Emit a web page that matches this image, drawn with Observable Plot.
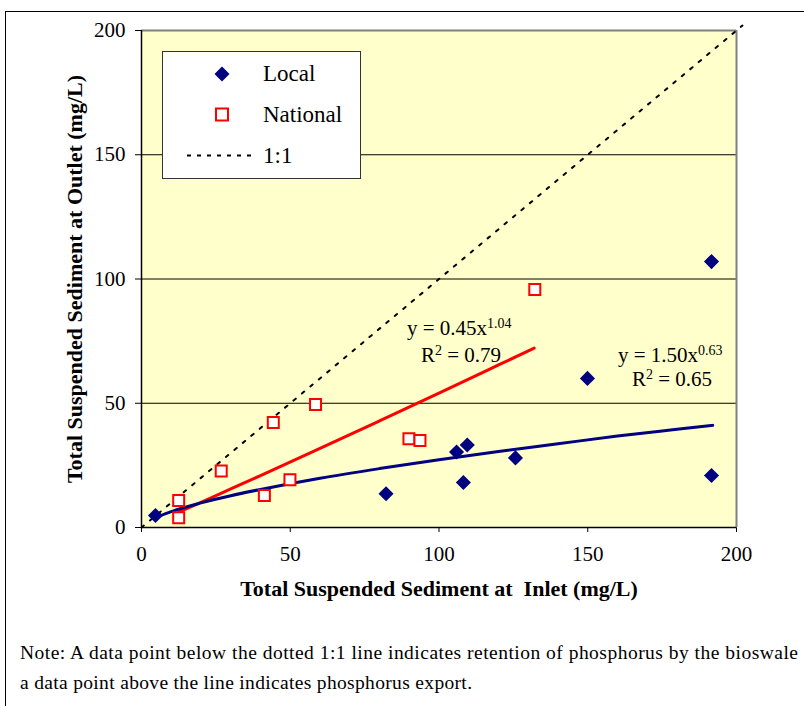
<!DOCTYPE html>
<html>
<head>
<meta charset="utf-8">
<script src="https://cdn.jsdelivr.net/npm/d3@7"></script>
<script src="https://cdn.jsdelivr.net/npm/@observablehq/plot@0.6"></script>
<style>
  html, body { margin: 0; padding: 0; background: #fff; }
  #page { position: relative; width: 804px; height: 706px; overflow: hidden; }
  #frame { position: absolute; left: 5px; top: 11px; width: 900px; height: 800px;
           border-left: 1.5px solid #000; border-top: 1.5px solid #000; }
  #chart { position: absolute; left: 0; top: 0; }
  #overlay { position: absolute; left: 0; top: 0; pointer-events: none; }
</style>
</head>
<body>
<div id="page">
  <div id="frame"></div>
  <div id="chart"></div>
  <svg id="overlay" width="804" height="706"></svg>
</div>
<script>
// ---- data ----
const localX = [4.7, 82.2, 105.9, 109.5, 108.2, 125.7, 149.9, 191.6, 191.6];
const localY = [4.8, 13.6, 30.4, 33.2, 18.1, 28.0, 60.0, 107.0, 20.9];
const nationalX = [12.5, 12.5, 26.8, 41.3, 44.3, 49.9, 58.5, 89.9, 93.6, 132.2];
const nationalY = [10.9, 3.9, 22.7, 12.9, 42.3, 19.2, 49.5, 35.7, 35.0, 95.8];
// trend lines (power fits)
const localFitX = [5, 10, 20, 30, 40, 60, 80, 100, 120, 140, 160, 180, 192];
const localFitY = [4.1, 6.4, 9.9, 12.8, 15.3, 19.8, 23.7, 27.3, 30.6, 33.7, 36.8, 39.5, 41.1];
const nationalFitX = [12.5, 20, 30, 40, 60, 80, 100, 120, 132];
const nationalFitY = [6.2, 10.1, 15.5, 20.9, 31.8, 42.9, 54.1, 65.4, 72.2];
// 1:1 reference line
const oneToOneX = [0, 202];
const oneToOneY = [0, 202];
// ticks, labels
const xTicks = [0, 50, 100, 150, 200];
const yTicks = [0, 50, 100, 150, 200];
const gridValues = [50, 100, 150];
const seriesNames = ["Local", "National", "1:1"];
const xTitle = "Total Suspended Sediment at  Inlet (mg/L)";
const yTitle = "Total Suspended Sediment at Outlet (mg/L)";
const nationalEq = {base: "y = 0.45x", exp: "1.04", r2: "0.79"};
const localEq = {base: "y = 1.50x", exp: "0.63", r2: "0.65"};
const noteLines = [
  "Note: A data point below the dotted 1:1 line indicates retention of phosphorus by the bioswale",
  "a data point above the line indicates phosphorus export."
];

const local = localX.map((x, i) => ({x, y: localY[i]}));
const national = nationalX.map((x, i) => ({x, y: nationalY[i]}));
const localFit = localFitX.map((x, i) => ({x, y: localFitY[i]}));
const nationalFit = nationalFitX.map((x, i) => ({x, y: nationalFitY[i]}));
const oneToOne = oneToOneX.map((x, i) => ({x, y: oneToOneY[i]}));

const NAVY = "#000080", RED = "#FF0000", BG = "#FFFFCC";
const FONT = "'Liberation Serif', 'Times New Roman', serif";

const chart = Plot.plot({
  width: 804,
  height: 610,
  marginLeft: 141,
  marginRight: 68,
  marginTop: 30,
  marginBottom: 83,
  style: {fontFamily: FONT, fontSize: "21px", color: "#000", background: "transparent", overflow: "visible"},
  x: {domain: [0, 200], ticks: xTicks, tickSize: 5, tickPadding: 14, label: null},
  y: {domain: [0, 200], ticks: yTicks, tickSize: 6, tickPadding: 10, label: null},
  marks: [
    Plot.frame({fill: BG, stroke: "none"}),
    Plot.ruleY(gridValues, {stroke: "#000", strokeWidth: 1}),
    Plot.ruleY([200], {stroke: "#808080", strokeWidth: 2}),
    Plot.ruleX([200], {stroke: "#808080", strokeWidth: 2}),
    Plot.ruleX([0], {stroke: "#000", strokeWidth: 1.5}),
    Plot.ruleY([0], {stroke: "#000", strokeWidth: 1.5}),
    Plot.line(oneToOne, {x: "x", y: "y", stroke: "#000", strokeWidth: 2, strokeDasharray: "3,8"}),
    Plot.line(nationalFit, {x: "x", y: "y", stroke: RED, strokeWidth: 3, curve: "monotone-x"}),
    Plot.line(localFit, {x: "x", y: "y", stroke: NAVY, strokeWidth: 3, curve: "monotone-x"}),
    Plot.dot(local, {x: "x", y: "y", symbol: "diamond2", fill: NAVY, stroke: "none", r: 6.8}),
    Plot.dot(national, {x: "x", y: "y", symbol: "square", fill: "#fff", stroke: RED, strokeWidth: 2, r: 6.2}),
    Plot.text([xTitle], {frameAnchor: "bottom", dy: 68, textAnchor: "middle", fontWeight: "bold", fontSize: 22, fill: "#000"}),
    Plot.text([yTitle], {frameAnchor: "left", dx: -67, rotate: -90, textAnchor: "middle", lineAnchor: "middle", fontWeight: "bold", fontSize: 22, fill: "#000"})
  ]
});
document.getElementById("chart").appendChild(chart);

// ---- legend, equations, note (overlay) ----
const ov = d3.select("#overlay").attr("font-family", FONT);
const lg = ov.append("g");
lg.append("rect").attr("x", 162.5).attr("y", 51.5).attr("width", 198).attr("height", 127)
  .attr("fill", "#fff").attr("stroke", "#333").attr("stroke-width", 1);
lg.append("path").attr("d", d3.symbol(d3.symbolDiamond2, 144)()).attr("transform", "translate(222,74)").attr("fill", NAVY);
lg.append("rect").attr("x", 216).attr("y", 108.5).attr("width", 12).attr("height", 12)
  .attr("fill", "#fff").attr("stroke", RED).attr("stroke-width", 2);
lg.append("line").attr("x1", 187).attr("x2", 254).attr("y1", 155.5).attr("y2", 155.5)
  .attr("stroke", "#000").attr("stroke-width", 2).attr("stroke-dasharray", "4,6");
[81, 122, 163].forEach((b, i) => {
  lg.append("text").attr("x", 263).attr("y", b).attr("font-size", 23).text(seriesNames[i]);
});

function equation(eq, x1, b1, x2, b2) {
  const t1 = ov.append("text").attr("x", x1).attr("y", b1).attr("font-size", 21);
  t1.append("tspan").text(eq.base);
  t1.append("tspan").attr("font-size", 14).attr("dy", -7).text(eq.exp);
  const t2 = ov.append("text").attr("x", x2).attr("y", b2).attr("font-size", 21);
  t2.append("tspan").text("R");
  t2.append("tspan").attr("font-size", 14).attr("dy", -7).text("2");
  t2.append("tspan").attr("dy", 7).text(" = " + eq.r2);
}
equation(nationalEq, 407, 335, 421, 362);
equation(localEq, 618, 361.5, 632, 386);

const widths = [778, 452];
[659, 689].forEach((b, i) => {
  ov.append("text").attr("x", 20).attr("y", b).attr("font-size", 19.5)
    .attr("textLength", widths[i]).attr("lengthAdjust", "spacing").text(noteLines[i]);
});
</script>
</body>
</html>
